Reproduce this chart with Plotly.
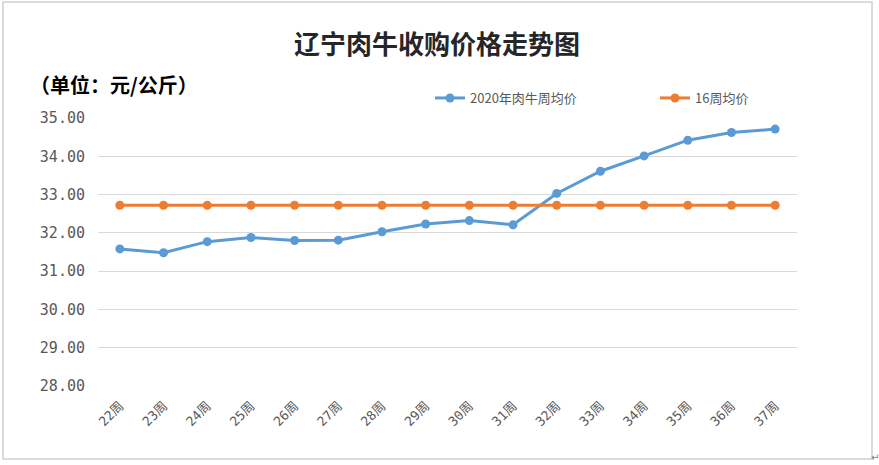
import plotly.graph_objects as go

weeks = ["22周", "23周", "24周", "25周", "26周", "27周", "28周", "29周",
         "30周", "31周", "32周", "33周", "34周", "35周", "36周", "37周"]
price_2020 = [31.58, 31.48, 31.77, 31.88, 31.80, 31.81, 32.03, 32.23,
              32.32, 32.21, 33.03, 33.61, 34.01, 34.42, 34.62, 34.71]
avg_16 = [32.72] * 16

series_names = ["2020年肉牛周均价", "16周均价"]
colors = ["#5B9BD5", "#ED7D31"]
title_text = "辽宁肉牛收购价格走势图"
unit_text = "（单位：元/公斤）"

fig = go.Figure()
for name, vals, c in zip(series_names, [price_2020, avg_16], colors):
    fig.add_trace(go.Scatter(
        x=weeks, y=vals, name=name, mode="lines+markers",
        line=dict(color=c, width=3),
        marker=dict(color=c, size=9),
    ))

L, R, T, B = 98, 82, 118, 79
W, H = 879, 465
pw, ph = W - L - R, H - T - B

def px(x):
    return (x - L) / pw

def py(y):
    return (H - B - y) / ph

fig.update_layout(
    width=W, height=H,
    margin=dict(l=L, r=R, t=T, b=B, autoexpand=False),
    paper_bgcolor="white", plot_bgcolor="white",
    title=dict(text=title_text, x=437 / W, xanchor="center", xref="container",
               y=1 - 45 / H, yanchor="middle",
               font=dict(family="Noto Sans CJK SC", size=26, color="#262626", weight="bold")),
    showlegend=True,
    legend=dict(orientation="h", x=px(430), xanchor="left", y=py(98), yanchor="middle",
                font=dict(family="Noto Sans CJK SC", size=13, color="#595959"),
                bgcolor="rgba(0,0,0,0)", entrywidth=180, entrywidthmode="pixels"),
    xaxis=dict(showgrid=False, showline=False, zeroline=False, tickangle=-45,
               tickfont=dict(family="DejaVu Sans Mono, Noto Sans CJK SC", size=13, color="#595959"),
               ticks="outside", ticklen=6, tickcolor="rgba(0,0,0,0)", range=[-0.5, 15.5]),
    yaxis=dict(range=[28, 35], dtick=1, tickformat=".2f", showgrid=True,
               gridcolor="#D9D9D9", gridwidth=1, zeroline=False, showline=False,
               ticks="", ticklabelstandoff=12,
               tickfont=dict(family="DejaVu Sans Mono", size=15, color="#595959")),
    font=dict(family="Noto Sans CJK SC"),
)

fig.add_annotation(text=unit_text, xref="paper", yref="paper", x=px(28), y=py(84),
                   xanchor="left", yanchor="middle", showarrow=False,
                   font=dict(family="Noto Sans CJK SC", size=20, color="#000000", weight="bold"))

fig.add_shape(type="rect", xref="paper", yref="paper",
              x0=px(3), x1=px(872), y0=py(459), y1=py(2),
              line=dict(color="#D0D0D0", width=1.5), fillcolor="rgba(0,0,0,0)", layer="below")

fig.add_annotation(text="↵", xref="paper", yref="paper", x=px(875), y=py(457),
                   xanchor="center", yanchor="middle", showarrow=False,
                   font=dict(family="DejaVu Sans", size=10, color="#808080"))

fig.write_html("out.html", config={"displayModeBar": False},
               post_script="document.body.style.margin='0';")
